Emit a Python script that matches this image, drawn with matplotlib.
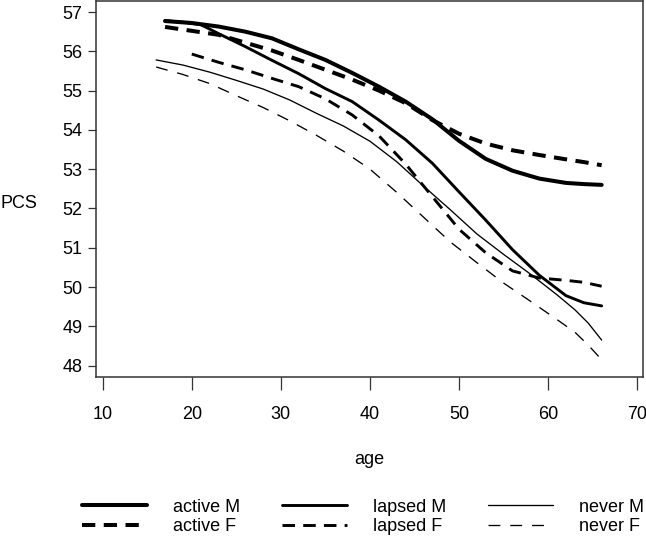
import matplotlib
matplotlib.use("Agg")
import matplotlib.pyplot as plt

plt.rcParams['font.family'] = ['Liberation Sans', 'DejaVu Sans']

# ---- data ----
age_active_m = [17, 20, 23, 26, 29, 32, 35, 38, 41, 44, 47, 50, 53, 56, 59, 62, 64, 66]
pcs_active_m = [56.77, 56.72, 56.63, 56.50, 56.33, 56.05, 55.78, 55.45, 55.10, 54.72,
                54.27, 53.72, 53.26, 52.96, 52.76, 52.65, 52.62, 52.60]

age_active_f = [17, 20, 23, 26, 29, 32, 35, 38, 41, 44, 47, 50, 53, 56, 59, 62, 64, 66]
pcs_active_f = [56.62, 56.52, 56.42, 56.22, 56.02, 55.78, 55.53, 55.28, 55.00, 54.68,
                54.25, 53.90, 53.65, 53.48, 53.36, 53.25, 53.18, 53.10]

age_lapsed_m = [17, 19, 21, 23, 26, 29, 32, 35, 38, 41, 44, 47, 50, 53, 56, 59, 62, 64, 66]
pcs_lapsed_m = [56.78, 56.74, 56.68, 56.45, 56.12, 55.77, 55.43, 55.05, 54.72, 54.25,
                53.75, 53.15, 52.42, 51.70, 50.95, 50.30, 49.78, 49.60, 49.52]

age_lapsed_f = [20, 23, 26, 29, 32, 35, 38, 41, 44, 47, 50, 53, 56, 59, 62, 64, 66]
pcs_lapsed_f = [55.93, 55.72, 55.53, 55.31, 55.10, 54.79, 54.38, 53.85, 53.13, 52.30,
                51.47, 50.87, 50.41, 50.23, 50.17, 50.12, 50.02]

age_never_m = [16, 19, 22, 25, 28, 31, 34, 37, 40, 43, 46, 49, 52, 55, 58, 61, 63, 64.5, 66]
pcs_never_m = [55.78, 55.65, 55.47, 55.26, 55.04, 54.76, 54.42, 54.10, 53.71, 53.19,
               52.57, 51.97, 51.35, 50.83, 50.33, 49.80, 49.42, 49.08, 48.65]

age_never_f = [16, 19, 22, 25, 28, 31, 34, 37, 40, 43, 46, 49, 52, 55, 58, 61, 63, 64.5, 66]
pcs_never_f = [55.60, 55.41, 55.18, 54.87, 54.57, 54.23, 53.86, 53.46, 53.00, 52.41,
               51.78, 51.15, 50.62, 50.10, 49.64, 49.17, 48.85, 48.52, 48.15]

labels = ["active M", "active F", "lapsed M", "lapsed F", "never M", "never F"]
x_ticks = [10, 20, 30, 40, 50, 60, 70]
y_ticks = [48, 49, 50, 51, 52, 53, 54, 55, 56, 57]

# ---- figure ----
W, H = 646, 541
fig = plt.figure(figsize=(W / 100, H / 100), dpi=100)
ax = fig.add_axes([96 / W, 1 - 377 / H, (643 - 96) / W, (377 - 1) / H])

series = [
    (age_active_m, pcs_active_m, dict(lw=2.9, ls='-')),
    (age_active_f, pcs_active_f, dict(lw=2.9, ls=(0, (3.3, 2.1)))),
    (age_lapsed_m, pcs_lapsed_m, dict(lw=2.1, ls='-')),
    (age_lapsed_f, pcs_lapsed_f, dict(lw=2.1, ls=(0, (4.3, 2.8)))),
    (age_never_m, pcs_never_m, dict(lw=0.95, ls='-')),
    (age_never_f, pcs_never_f, dict(lw=0.95, ls=(0, (9.0, 7.5)))),
]
handles = []
for (xs, ys, st), lab in zip(series, labels):
    h, = ax.plot(xs, ys, color='black', linewidth=st['lw'], linestyle=st['ls'],
                 solid_capstyle='round', dash_capstyle='butt', label=lab)
    handles.append(h)

ax.set_xlim(9.25, 70.64)
ax.set_ylim(47.71, 57.28)
ax.set_xticks(x_ticks)
ax.set_yticks(y_ticks)
ax.tick_params(axis='x', direction='out', length=9.4, width=0.9, pad=11.5,
               labelsize=13, colors='#333333', labelcolor='black')
ax.tick_params(axis='y', direction='out', length=5.5, width=0.9, pad=4.3,
               labelsize=13, colors='#333333', labelcolor='black')
for sp in ax.spines.values():
    sp.set_color('#333333')
    sp.set_linewidth(1.1)

fig.text(0.0, 1 - 203 / H, "PCS", ha='left', va='center', fontsize=13)
fig.text(369 / W, 1 - 460 / H, "age", ha='center', va='center', fontsize=13)

fig.legend(handles=handles, labels=labels, ncol=3, frameon=False,
           loc='center left', bbox_to_anchor=(82 / W, 1 - 517 / H),
           fontsize=13, handlelength=3.6, handletextpad=1.45,
           columnspacing=2.3, labelspacing=0.15, borderpad=0, borderaxespad=0)

fig.savefig("out.png", dpi=100)
